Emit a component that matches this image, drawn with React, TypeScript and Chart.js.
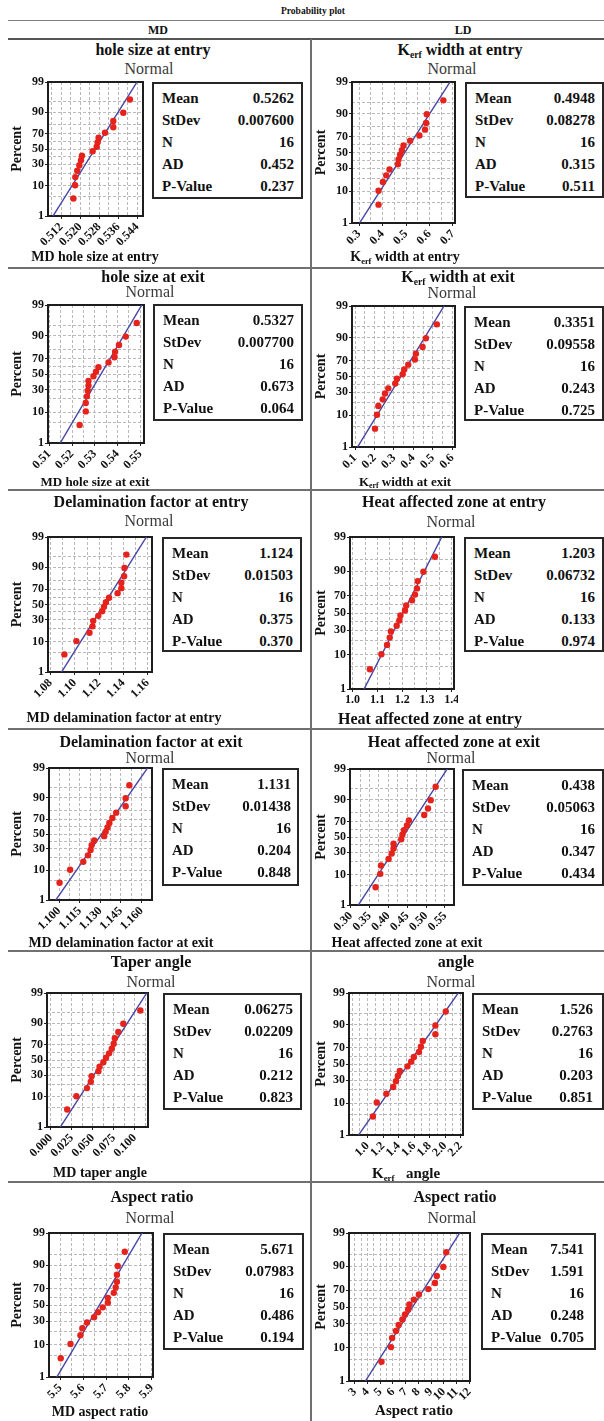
import React, { useEffect, useRef } from 'react';
import { Chart, registerables } from 'chart.js';

Chart.register(...registerables);

const SERIF = "'Liberation Serif', 'Times New Roman', Times, serif";
const GRID_COLOR = '#b9b9b9';

// Probability-axis positions (percent) of the 16 ranked points
const RANK_PERCENT = [4.27, 10.37, 16.46, 22.56, 28.66, 34.76, 40.85, 46.95, 53.05, 59.15, 65.24, 71.34, 77.44, 83.54, 89.63, 95.73];
const PERCENT_GRID = [1, 5, 10, 20, 30, 40, 50, 60, 70, 80, 90, 95, 99];
const PERCENT_LABELS = [1, 10, 30, 50, 70, 90, 99];
const STAT_NAMES = ['Mean', 'StDev', 'N', 'AD', 'P-Value'];

// ---- MD hole size at entry
const mdHoleEntry = [0.5171, 0.5178, 0.5179, 0.5187, 0.5196, 0.5203, 0.5207, 0.5252, 0.5269, 0.5273, 0.5277, 0.5304, 0.5339, 0.5339, 0.5381, 0.5409];
const mdHoleEntryStats = ['0.5262', '0.007600', '16', '0.452', '0.237'];
const mdHoleEntryTicks = [0.512, 0.520, 0.528, 0.536, 0.544];

// ---- LD kerf width at entry
const ldKerfEntry = [0.383, 0.383, 0.4016, 0.4157, 0.4297, 0.4653, 0.468, 0.475, 0.4823, 0.4893, 0.5176, 0.557, 0.581, 0.5855, 0.5885, 0.659];
const ldKerfEntryStats = ['0.4948', '0.08278', '16', '0.315', '0.511'];
const ldKerfEntryTicks = [0.3, 0.4, 0.5, 0.6, 0.7];

// ---- MD hole size at exit
const mdHoleExit = [0.5233, 0.526, 0.526, 0.5265, 0.5269, 0.5272, 0.5272, 0.5294, 0.5305, 0.5316, 0.536, 0.5386, 0.5389, 0.5406, 0.5436, 0.5484];
const mdHoleExitStats = ['0.5327', '0.007700', '16', '0.673', '0.064'];
const mdHoleExitTicks = [0.51, 0.52, 0.53, 0.54, 0.55];

// ---- LD kerf width at exit
const ldKerfExit = [0.2025, 0.2127, 0.2194, 0.242, 0.2537, 0.2707, 0.3066, 0.3153, 0.3445, 0.3527, 0.3732, 0.4076, 0.4127, 0.4471, 0.464, 0.5204];
const ldKerfExitStats = ['0.3351', '0.09558', '16', '0.243', '0.725'];
const ldKerfExitTicks = [0.1, 0.2, 0.3, 0.4, 0.5, 0.6];

// ---- MD delamination factor at entry
const mdDelamEntry = [1.0913, 1.1012, 1.112, 1.1145, 1.1151, 1.1193, 1.1225, 1.124, 1.1256, 1.1282, 1.1352, 1.1383, 1.1383, 1.1406, 1.1409, 1.1425];
const mdDelamEntryStats = ['1.124', '0.01503', '16', '0.375', '0.370'];
const mdDelamEntryTicks = [1.08, 1.10, 1.12, 1.14, 1.16];

// ---- LD heat affected zone at entry
const ldHazEntry = [1.0696, 1.1161, 1.1389, 1.1497, 1.1545, 1.1777, 1.1885, 1.1929, 1.2114, 1.2162, 1.2394, 1.2518, 1.2594, 1.2626, 1.2855, 1.3319];
const ldHazEntryStats = ['1.203', '0.06732', '16', '0.133', '0.974'];
const ldHazEntryTicks = [1.0, 1.1, 1.2, 1.3, 1.4];

// ---- MD delamination factor at exit
const mdDelamExit = [1.1003, 1.108, 1.1176, 1.121, 1.1229, 1.1237, 1.1256, 1.1328, 1.1339, 1.1353, 1.1366, 1.1388, 1.1416, 1.1485, 1.1485, 1.1512];
const mdDelamExitStats = ['1.131', '0.01438', '16', '0.204', '0.848'];
const mdDelamExitTicks = [1.100, 1.115, 1.130, 1.145, 1.160];

// ---- LD heat affected zone at exit
const ldHazExit = [0.366, 0.3784, 0.3802, 0.4005, 0.4087, 0.4137, 0.4137, 0.434, 0.4371, 0.4411, 0.4492, 0.4543, 0.4951, 0.5051, 0.5122, 0.5254];
const ldHazExitStats = ['0.438', '0.05063', '16', '0.347', '0.434'];
const ldHazExitTicks = [0.30, 0.35, 0.40, 0.45, 0.50, 0.55];

// ---- MD taper angle
const mdTaper = [0.0195, 0.0304, 0.0431, 0.0476, 0.0485, 0.0566, 0.058, 0.0625, 0.0657, 0.0693, 0.0725, 0.0748, 0.0762, 0.0803, 0.0862, 0.1065];
const mdTaperStats = ['0.06275', '0.02209', '16', '0.212', '0.823'];
const mdTaperTicks = [0.0, 0.025, 0.05, 0.075, 0.1];

// ---- LD kerf angle
const ldKerfAngle = [1.068, 1.118, 1.242, 1.33, 1.365, 1.39, 1.415, 1.514, 1.562, 1.597, 1.662, 1.687, 1.711, 1.874, 1.874, 2.008];
const ldKerfAngleStats = ['1.526', '0.2763', '16', '0.203', '0.851'];
const ldKerfAngleTicks = [1.0, 1.2, 1.4, 1.6, 1.8, 2.0, 2.2];

// ---- MD aspect ratio
const mdAspect = [5.5022, 5.5449, 5.588, 5.5965, 5.6169, 5.6476, 5.665, 5.6854, 5.7077, 5.7077, 5.7335, 5.7419, 5.7473, 5.7473, 5.7508, 5.7815];
const mdAspectStats = ['5.671', '0.07983', '16', '0.486', '0.194'];
const mdAspectTicks = [5.5, 5.6, 5.7, 5.8, 5.9];

// ---- LD aspect ratio
const ldAspect = [5.1, 5.847, 5.933, 6.237, 6.447, 6.743, 6.953, 7.194, 7.287, 7.645, 8.034, 8.781, 9.295, 9.443, 9.957, 10.19];
const ldAspectStats = ['7.541', '1.591', '16', '0.248', '0.705'];
const ldAspectTicks = [3, 4, 5, 6, 7, 8, 9, 10, 11, 12];

// inverse standard normal CDF (probability-axis transform)
function probit(p: number): number {
  const a = [-3.969683028665376e1, 2.209460984245205e2, -2.759285104469687e2, 1.38357751867269e2, -3.066479806614716e1, 2.506628277459239];
  const b = [-5.447609879822406e1, 1.615858368580409e2, -1.556989798598866e2, 6.680131188771972e1, -1.328068155288572e1];
  const c = [-7.784894002430293e-3, -3.223964580411365e-1, -2.400758277161838, -2.549732539343734, 4.374664141464968, 2.938163982698783];
  const d = [7.784695709041462e-3, 3.224671290700398e-1, 2.445134137142996, 3.754408661907416];
  const plow = 0.02425;
  if (p < plow) {
    const q = Math.sqrt(-2 * Math.log(p));
    return (((((c[0] * q + c[1]) * q + c[2]) * q + c[3]) * q + c[4]) * q + c[5]) / ((((d[0] * q + d[1]) * q + d[2]) * q + d[3]) * q + 1);
  }
  if (p <= 1 - plow) {
    const q = p - 0.5;
    const r = q * q;
    return ((((((a[0] * r + a[1]) * r + a[2]) * r + a[3]) * r + a[4]) * r + a[5]) * q) / (((((b[0] * r + b[1]) * r + b[2]) * r + b[3]) * r + b[4]) * r + 1);
  }
  const q = Math.sqrt(-2 * Math.log(1 - p));
  return -(((((c[0] * q + c[1]) * q + c[2]) * q + c[3]) * q + c[4]) * q + c[5]) / ((((d[0] * q + d[1]) * q + d[2]) * q + d[3]) * q + 1);
}

const Z_LO = probit(0.01);
const Z_HI = probit(0.99);
const Y_TICKS = PERCENT_GRID.map((pc) => ({ z: probit(pc / 100), pc }));

const Kerf = ({ rest }: { rest: string }) => (
  <>
    K<span style={{ fontSize: '0.6em', position: 'relative', top: '0.3em' }}>erf</span>
    {rest}
  </>
);

type PanelCfg = {
  col: 0 | 1;
  title: React.ReactNode;
  titleX: number;
  titleY: number;
  normalX: number;
  normalY: number;
  plot: [number, number, number, number];
  box: [number, number, number, number];
  valueX: number;
  xTitle: React.ReactNode;
  xTitleX: number;
  xTitleY: number;
  xTitleSize: number;
  data: number[];
  stat: string[];
  ticks: number[];
  decimals: number;
  min: number;
  max: number;
  gridStep: number;
  rotate: number;
};

const PANELS: PanelCfg[] = [
  {
    col: 0, title: 'hole size at entry', titleX: 153, titleY: 50, normalX: 149, normalY: 69,
    plot: [48, 82, 143, 216], box: [152, 82, 303, 199], valueX: 294,
    xTitle: 'MD hole size at entry', xTitleX: 95, xTitleY: 257, xTitleSize: 14,
    data: mdHoleEntry, stat: mdHoleEntryStats, ticks: mdHoleEntryTicks, decimals: 3,
    min: 0.5064, max: 0.5464, gridStep: 0.004, rotate: 45,
  },
  {
    col: 1, title: <Kerf rest=" width at entry" />, titleX: 460, titleY: 50, normalX: 452, normalY: 69,
    plot: [352, 82, 455, 223], box: [465, 82, 604, 198], valueX: 595,
    xTitle: <Kerf rest=" width at entry" />, xTitleX: 405, xTitleY: 257, xTitleSize: 14,
    data: ldKerfEntry, stat: ldKerfEntryStats, ticks: ldKerfEntryTicks, decimals: 1,
    min: 0.27, max: 0.7086, gridStep: 0.05, rotate: 45,
  },
  {
    col: 0, title: 'hole size at exit', titleX: 153, titleY: 277, normalX: 150, normalY: 292,
    plot: [48, 305, 144, 443], box: [153, 304, 303, 421], valueX: 294,
    xTitle: 'MD hole size at exit', xTitleX: 95, xTitleY: 481, xTitleSize: 13,
    data: mdHoleExit, stat: mdHoleExitStats, ticks: mdHoleExitTicks, decimals: 2,
    min: 0.5094, max: 0.5516, gridStep: 0.005, rotate: 45,
  },
  {
    col: 1, title: <Kerf rest=" width at exit" />, titleX: 458, titleY: 277, normalX: 452, normalY: 293,
    plot: [352, 306, 455, 447], box: [464, 306, 604, 421], valueX: 595,
    xTitle: <Kerf rest=" width at exit" />, xTitleX: 405, xTitleY: 481, xTitleSize: 13,
    data: ldKerfExit, stat: ldKerfExitStats, ticks: ldKerfExitTicks, decimals: 1,
    min: 0.0841, max: 0.6138, gridStep: 0.05, rotate: 45,
  },
  {
    col: 0, title: 'Delamination factor at entry', titleX: 151, titleY: 502, normalX: 149, normalY: 521,
    plot: [48, 537, 152, 672], box: [162, 537, 302, 652], valueX: 293,
    xTitle: 'MD delamination factor at entry', xTitleX: 124, xTitleY: 718, xTitleSize: 14,
    data: mdDelamEntry, stat: mdDelamEntryStats, ticks: mdDelamEntryTicks, decimals: 2,
    min: 1.0778, max: 1.1636, gridStep: 0.01, rotate: 45,
  },
  {
    col: 1, title: 'Heat affected zone at entry', titleX: 454, titleY: 502, normalX: 451, normalY: 522,
    plot: [350, 537, 454, 689], box: [464, 537, 604, 652], valueX: 595,
    xTitle: 'Heat affected zone at entry', xTitleX: 430, xTitleY: 719, xTitleSize: 16,
    data: ldHazEntry, stat: ldHazEntryStats, ticks: ldHazEntryTicks, decimals: 1,
    min: 0.9895, max: 1.4089, gridStep: 0.05, rotate: 0,
  },
  {
    col: 0, title: 'Delamination factor at exit', titleX: 151, titleY: 742, normalX: 150, normalY: 758,
    plot: [49, 768, 152, 900], box: [162, 768, 299, 886], valueX: 291,
    xTitle: 'MD delamination factor at exit', xTitleX: 121, xTitleY: 943, xTitleSize: 14,
    data: mdDelamExit, stat: mdDelamExitStats, ticks: mdDelamExitTicks, decimals: 3,
    min: 1.0926, max: 1.1677, gridStep: 0.0075, rotate: 45,
  },
  {
    col: 1, title: 'Heat affected zone at exit', titleX: 454, titleY: 742, normalX: 451, normalY: 758,
    plot: [350, 769, 454, 905], box: [462, 769, 604, 886], valueX: 595,
    xTitle: 'Heat affected zone at exit', xTitleX: 407, xTitleY: 943, xTitleSize: 14,
    data: ldHazExit, stat: ldHazExitStats, ticks: ldHazExitTicks, decimals: 2,
    min: 0.2981, max: 0.574, gridStep: 0.025, rotate: 45,
  },
  {
    col: 0, title: 'Taper angle', titleX: 151, titleY: 962, normalX: 151, normalY: 982,
    plot: [47, 993, 148, 1127], box: [163, 993, 302, 1110], valueX: 293,
    xTitle: 'MD taper angle', xTitleX: 100, xTitleY: 1173, xTitleSize: 14,
    data: mdTaper, stat: mdTaperStats, ticks: mdTaperTicks, decimals: 3,
    min: -0.0045, max: 0.1156, gridStep: 0.0125, rotate: 45,
  },
  {
    col: 1, title: 'angle', titleX: 456, titleY: 962, normalX: 451, normalY: 982,
    plot: [349, 993, 463, 1135], box: [472, 993, 604, 1110], valueX: 593,
    xTitle: <Kerf rest={'\u00a0\u00a0 angle'} />, xTitleX: 406, xTitleY: 1173, xTitleSize: 15,
    data: ldKerfAngle, stat: ldKerfAngleStats, ticks: ldKerfAngleTicks, decimals: 1,
    min: 0.76, max: 2.23, gridStep: 0.1, rotate: 45,
  },
  {
    col: 0, title: 'Aspect ratio', titleX: 152, titleY: 1197, normalX: 150, normalY: 1218,
    plot: [49, 1233, 153, 1377], box: [163, 1233, 304, 1350], valueX: 294,
    xTitle: 'MD aspect ratio', xTitleX: 100, xTitleY: 1412, xTitleSize: 14,
    data: mdAspect, stat: mdAspectStats, ticks: mdAspectTicks, decimals: 1,
    min: 5.451, max: 5.9047, gridStep: 0.05, rotate: 45,
  },
  {
    col: 1, title: 'Aspect ratio', titleX: 455, titleY: 1197, normalX: 452, normalY: 1218,
    plot: [349, 1233, 470, 1381], box: [481, 1233, 596, 1350], valueX: 584,
    xTitle: 'Aspect ratio', xTitleX: 414, xTitleY: 1410, xTitleSize: 15,
    data: ldAspect, stat: ldAspectStats, ticks: ldAspectTicks, decimals: 0,
    min: 2.548, max: 12.05, gridStep: 0.5, rotate: 45,
  },
];

const framePlugin = {
  id: 'probFrame',
  beforeDatasetsDraw(chart: any) {
    const { ctx, chartArea: a } = chart;
    ctx.save();
    ctx.strokeStyle = '#1d1d1d';
    ctx.lineWidth = 2;
    ctx.strokeRect(a.left, a.top, a.right - a.left, a.bottom - a.top);
    ctx.restore();
  },
};

const PAD_T = 10;
const PAD_R = 4;
const X_H = 44;

function ProbPlot({ p }: { p: PanelCfg }) {
  const ref = useRef<HTMLCanvasElement | null>(null);
  const [pl, pt, pr, pb] = p.plot;
  const canvasLeft = p.col === 0 ? 8 : 312;
  const yW = pl - canvasLeft;
  const width = pr - canvasLeft + PAD_R;
  const height = PAD_T + (pb - pt) + X_H;

  useEffect(() => {
    if (!ref.current) return;
    const mean = parseFloat(p.stat[0]);
    const sd = parseFloat(p.stat[1]);
    const step = p.gridStep;
    const tol = step * 1e-3;
    const isMajor = (v: number) => p.ticks.some((m) => Math.abs(m - v) < tol);
    const kLo = Math.ceil((p.min - p.ticks[0]) / step - 1e-6);
    const kHi = Math.floor((p.max - p.ticks[0]) / step + 1e-6);
    const grid: number[] = [];
    for (let k = kLo; k <= kHi; k++) grid.push(p.ticks[0] + k * step);
    const isLabeledZ = (v: number) =>
      Y_TICKS.some((t) => Math.abs(t.z - v) < 1e-6 && PERCENT_LABELS.includes(t.pc));
    const labelForZ = (v: number) => {
      const t = Y_TICKS.find((tt) => Math.abs(tt.z - v) < 1e-6);
      return t && PERCENT_LABELS.includes(t.pc) ? String(t.pc) : '';
    };
    const tickFont = { family: SERIF, size: 12, weight: 'bold' as const };

    const chart = new Chart(ref.current, {
      type: 'scatter',
      data: {
        datasets: [
          {
            data: p.data.map((x, i) => ({ x, y: probit(RANK_PERCENT[i] / 100) })),
            pointRadius: 3.2,
            pointHoverRadius: 3.2,
            backgroundColor: '#e5221b',
            borderColor: '#e5221b',
            borderWidth: 0,
          },
          {
            data: [p.min, p.max].map((x) => ({ x, y: (x - mean) / sd })),
            showLine: true,
            pointRadius: 0,
            borderColor: '#4646a6',
            borderWidth: 1.4,
            fill: false,
          } as any,
        ],
      },
      options: {
        animation: false,
        responsive: false,
        maintainAspectRatio: false,
        events: [],
        layout: { padding: { left: 0, top: PAD_T, right: PAD_R, bottom: 0 } },
        plugins: { legend: { display: false }, tooltip: { enabled: false } },
        scales: {
          x: {
            type: 'linear',
            position: 'bottom',
            min: p.min,
            max: p.max,
            afterBuildTicks: (s: any) => {
              s.ticks = grid.map((v) => ({ value: v }));
            },
            afterFit: (s: any) => {
              s.height = X_H;
              s.paddingLeft = 0;
              s.paddingRight = 0;
            },
            ticks: {
              autoSkip: false,
              minRotation: p.rotate,
              maxRotation: p.rotate,
              padding: 1,
              color: '#111',
              font: tickFont,
              callback: (v: any) => (isMajor(Number(v)) ? Number(v).toFixed(p.decimals) : ''),
            },
            grid: {
              color: GRID_COLOR,
              lineWidth: 1,
              tickLength: 3,
              tickBorderDash: [1, 0],
              tickColor: (c: any) => (c.tick && isMajor(c.tick.value) ? '#222' : 'rgba(0,0,0,0)'),
            },
            border: { display: false, dash: [3, 2] },
          },
          y: {
            type: 'linear',
            min: Z_LO,
            max: Z_HI,
            afterBuildTicks: (s: any) => {
              s.ticks = Y_TICKS.map((t) => ({ value: t.z }));
            },
            afterFit: (s: any) => {
              s.width = yW;
              s.paddingTop = 0;
              s.paddingBottom = 0;
            },
            ticks: {
              autoSkip: false,
              padding: 1,
              color: '#111',
              font: tickFont,
              callback: (v: any) => labelForZ(Number(v)),
            },
            grid: {
              color: (c: any) => (c.index === 0 || c.index === Y_TICKS.length - 1 ? 'rgba(0,0,0,0)' : GRID_COLOR),
              lineWidth: 1,
              tickLength: 3,
              tickBorderDash: [1, 0],
              tickColor: (c: any) => (c.tick && isLabeledZ(c.tick.value) ? '#222' : 'rgba(0,0,0,0)'),
            },
            border: { display: false, dash: [3, 2] },
            title: {
              display: true,
              text: 'Percent',
              color: '#111',
              font: { family: SERIF, size: 14, weight: 'bold' },
              padding: { top: 1, bottom: 0 },
            },
          },
        },
      } as any,
      plugins: [framePlugin],
    });
    return () => chart.destroy();
  }, []);

  return (
    <canvas
      ref={ref}
      width={width}
      height={height}
      style={{ position: 'absolute', left: canvasLeft, top: pt - PAD_T, width, height }}
    />
  );
}

function Txt({
  x, y, size, bold, color = '#111', align = 'center', children,
}: {
  x: number; y: number; size: number; bold?: boolean; color?: string; align?: 'left' | 'center' | 'right'; children: React.ReactNode;
}) {
  const tx = align === 'center' ? '-50%' : align === 'right' ? '-100%' : '0';
  return (
    <div
      style={{
        position: 'absolute', left: x, top: y, transform: `translate(${tx}, -50%)`,
        fontFamily: SERIF, fontSize: size, fontWeight: bold ? 'bold' : 'normal', color,
        whiteSpace: 'pre', lineHeight: 1,
      }}
    >
      {children}
    </div>
  );
}

function Panel({ p }: { p: PanelCfg }) {
  const [bl, bt, br, bb] = p.box;
  return (
    <>
      <Txt x={p.titleX} y={p.titleY} size={16} bold>{p.title}</Txt>
      <Txt x={p.normalX} y={p.normalY} size={16} color="#3a3a3a">Normal</Txt>
      <ProbPlot p={p} />
      <div
        style={{
          position: 'absolute', left: bl, top: bt, width: br - bl, height: bb - bt,
          border: '2px solid #262626', boxSizing: 'border-box',
        }}
      />
      {STAT_NAMES.map((n, i) => (
        <Txt key={'n' + i} x={bl + 10} y={bt + 16 + 22 * i} size={15} bold align="left">{n}</Txt>
      ))}
      {p.stat.map((v, i) => (
        <Txt key={'v' + i} x={p.valueX} y={bt + 16 + 22 * i} size={15} bold align="right">{v}</Txt>
      ))}
      <Txt x={p.xTitleX} y={p.xTitleY} size={p.xTitleSize} bold>{p.xTitle}</Txt>
    </>
  );
}

const ROW_LINES = [268, 490, 729, 951, 1182];

export default function App() {
  return (
    <div
      style={{
        position: 'absolute', left: 0, top: 0, width: 604, height: 1421,
        background: '#fff', overflow: 'hidden', fontFamily: SERIF,
      }}
    >
      <Txt x={313} y={12} size={9.5} bold>Probability plot</Txt>
      <div style={{ position: 'absolute', left: 8, top: 20, width: 596, height: 1, background: '#808080' }} />
      <Txt x={158} y={30} size={12} bold>MD</Txt>
      <Txt x={463} y={30} size={12} bold>LD</Txt>
      <div style={{ position: 'absolute', left: 8, top: 38, width: 596, height: 2, background: '#555' }} />
      {ROW_LINES.map((y) => (
        <div key={y} style={{ position: 'absolute', left: 8, top: y - 1, width: 596, height: 2, background: '#707070' }} />
      ))}
      <div style={{ position: 'absolute', left: 310, top: 39, width: 2, height: 1382, background: '#707070' }} />
      {PANELS.map((p, i) => (
        <Panel key={i} p={p} />
      ))}
    </div>
  );
}
